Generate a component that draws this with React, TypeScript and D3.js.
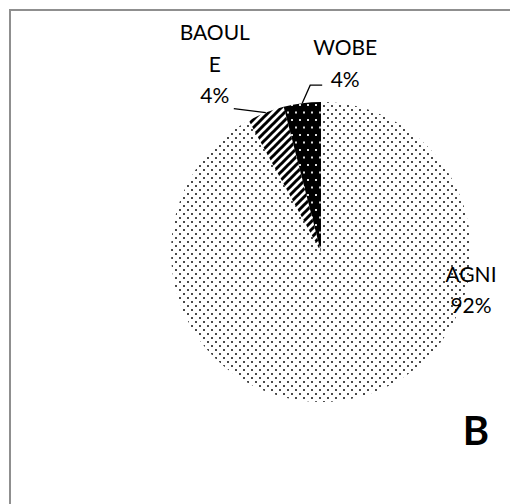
import React from "react";
import * as d3 from "d3";

const categories = ["AGNI", "BAOULE", "WOBE"];
const values = [92, 4, 4];
const labelLines = [["AGNI", "92%"], ["BAOUL", "E", "4%"], ["WOBE", "4%"]];
const panelLetter = "B";

const W = 510;
const H = 504;
const cx = 321;
const cy = 252;
const R = 150;
const FONT = "Lato, 'Open Sans', sans-serif";

export default function App() {
  const pie = d3.pie<number>().sort(null).startAngle(0).endAngle(2 * Math.PI).value((d) => d);
  const arcs = pie(values);
  const arc = d3.arc<d3.PieArcDatum<number>>().innerRadius(0).outerRadius(R);
  const fills = ["url(#pDots)", "url(#pStripes)", "url(#pDark)"];
  const pt = (a: number, r: number) => [cx + r * Math.sin(a), cy - r * Math.cos(a)];

  const mid = arcs.map((a) => (a.startAngle + a.endAngle) / 2);
  const bEdge = pt(mid[1], R);
  const wEdge = pt(mid[2], R);

  return (
    <svg width={W} height={H} style={{ position: "absolute", left: 0, top: 0, display: "block" }}>
      <defs>
        <pattern id="pDots" width={8} height={8} patternUnits="userSpaceOnUse" x={cx} y={cy}>
          <rect width={8} height={8} fill="#fff" />
          <rect x={1} y={1} width={2} height={2} fill="#4a4a4a" />
          <rect x={5} y={5} width={2} height={2} fill="#4a4a4a" />
        </pattern>
        <pattern id="pStripes" width={8} height={8} patternUnits="userSpaceOnUse">
          <rect width={8} height={8} fill="#fff" />
          <path d="M-2,2 L2,-2 M0,8 L8,0 M6,10 L10,6" stroke="#000" strokeWidth={3} />
        </pattern>
        <pattern id="pDark" width={8} height={15} patternUnits="userSpaceOnUse" x={cx}>
          <rect width={8} height={15} fill="#000" />
          <rect x={1} y={2} width={2} height={2} fill="#ddd" />
          <rect x={5} y={9.5} width={2} height={2} fill="#ddd" />
        </pattern>
      </defs>
      <rect x={0} y={0} width={W} height={H} fill="#fff" />
      <path d={`M10,${H} L10,10 L${W},10`} fill="none" stroke="#8f8f8f" strokeWidth={2} />
      <g transform={`translate(${cx},${cy})`}>
        {arcs.map((a, i) => (
          <path key={categories[i]} d={arc(a) || ""} fill={fills[i]} />
        ))}
      </g>
      <path d={`M${bEdge[0]},${bEdge[1]} L${bEdge[0] - 32},${bEdge[1] - 4}`} stroke="#000" strokeWidth={1.3} fill="none" />
      <path d={`M${wEdge[0]},${wEdge[1]} L${wEdge[0] + 8},${wEdge[1] - 18} L${wEdge[0] + 20},${wEdge[1] - 18}`} stroke="#000" strokeWidth={1.3} fill="none" />
      <g fontFamily={FONT} fontSize={21} fill="#000" textAnchor="middle">
        {labelLines[0].map((t, j) => (
          <text key={"a" + j} x={471} y={282 + j * 31}>{t}</text>
        ))}
        {labelLines[1].map((t, j) => (
          <text key={"b" + j} x={bEdge[0] - 51} y={40 + j * 31.5}>{t}</text>
        ))}
        {labelLines[2].map((t, j) => (
          <text key={"w" + j} x={wEdge[0] + 43} y={55 + j * 32}>{t}</text>
        ))}
      </g>
      <text x={476} y={445} fontFamily={FONT} fontWeight="bold" fontSize={40} textAnchor="middle">{panelLetter}</text>
    </svg>
  );
}
